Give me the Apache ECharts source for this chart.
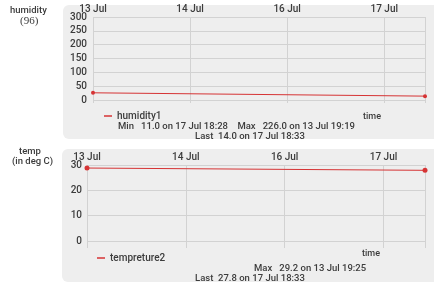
<!DOCTYPE html>
<html>
<head>
<meta charset="utf-8">
<script src="https://cdn.jsdelivr.net/npm/echarts@6/dist/echarts.min.js"></script>
<style>
  html, body { margin: 0; padding: 0; background: #fff; }
  #chart { width: 434px; height: 284px; }
</style>
</head>
<body>
<div id="chart"></div>
<script>
// x positions are in "tick slots": 13 Jul = 0, 14 Jul = 1, 16 Jul = 2, 17 Jul = 3
var dayLabels = ["13 Jul", "14 Jul", "16 Jul", "17 Jul"];
var humidityTicks = [0, 50, 100, 150, 200, 250, 300];
var tempTicks = [0, 10, 20, 30];
var humidity1 = [[0, 26], [3.42, 14]];
var tempreture2 = [[0, 28.8], [3.42, 27.9]];
var humidityStats = ["Min   11.0 on 17 Jul 18:28    Max   226.0 on 13 Jul 19:19", "Last  14.0 on 17 Jul 18:33"];
var tempStats = ["Max   29.2 on 13 Jul 19:25", "Last  27.8 on 17 Jul 18:33"];

var font = "Roboto, 'Noto Sans', sans-serif";
var red = "#d63334";
var gridColor = "#d2d2d2";
var textColor = "#3c3c3c";

var chart = echarts.init(document.getElementById("chart"));

function xAxisTop(gridIndex) {
  return {
    type: "value",
    gridIndex: gridIndex,
    position: "top",
    min: 0,
    max: 3.42,
    interval: 1,
    axisLine: { show: false },
    axisTick: { show: false },
    axisLabel: {
      showMaxLabel: false,
      color: textColor,
      fontSize: 10,
      fontWeight: 500,
      fontFamily: font,
      margin: 3,
      formatter: function (v) { return dayLabels[v] || ""; },
    },
    splitLine: { show: true, lineStyle: { color: gridColor, width: 1 } },
  };
}
// bottom axis only used to draw the small stubs below the 0 line
function xAxisStub(gridIndex, len) {
  return {
    type: "value",
    gridIndex: gridIndex,
    position: "bottom",
    min: 0,
    max: 3.42,
    interval: 1,
    axisLine: { show: false },
    axisLabel: { show: false },
    axisTick: { show: true, length: len, lineStyle: { color: gridColor } },
    splitLine: { show: false },
  };
}

function label(text, left, top, size, family) {
  return {
    type: "text", left: left, top: top,
    style: { text: text, fontSize: size, fontWeight: 500, fontFamily: family || font, fill: textColor },
  };
}

var option = {
  animation: false,
  graphic: [
    // panel backgrounds
    { type: "rect", z: -10, shape: { x: 63, y: 5, width: 380, height: 134, r: 6 }, style: { fill: "#eeeeee" } },
    { type: "rect", z: -10, shape: { x: 62, y: 149, width: 380, height: 133, r: 6 }, style: { fill: "#eeeeee" } },
    // side titles
    label("humidity", 10, 6, 9.5),
    label("(96)", 20, 16, 11, "'Liberation Serif', serif"),
    label("temp", 19, 147, 9.5),
    label("(in deg C)", 12, 157, 9.5),
    // "time" captions
    label("time", 363, 112, 9),
    label("time", 362, 249, 9),
    // stats
    label(humidityStats[0], 118, 122, 9.5),
    label(humidityStats[1], 195, 132, 9.5),
    label(tempStats[0], 254, 264, 9.5),
    label(tempStats[1], 195, 274, 9.5),
  ],
  legend: [
    {
      data: ["humidity1"],
      left: 104,
      top: 111,
      padding: 0,
      icon: "rect",
      itemWidth: 8,
      itemHeight: 1.5,
      itemGap: 6,
      textStyle: { color: textColor, fontSize: 10, fontFamily: font, fontWeight: 500 },
    },
    {
      data: ["tempreture2"],
      left: 97,
      top: 253,
      padding: 0,
      icon: "rect",
      itemWidth: 8,
      itemHeight: 1.5,
      textStyle: { color: textColor, fontSize: 10, fontFamily: font, fontWeight: 500 },
    },
  ],
  grid: [
    { left: 93, right: 9, top: 17, height: 83 },
    { left: 87, right: 9, top: 165, height: 76 },
  ],
  xAxis: [xAxisTop(0), xAxisTop(1), xAxisStub(0, 3), xAxisStub(1, 7)],
  yAxis: [
    {
      type: "value",
      gridIndex: 0,
      min: humidityTicks[0],
      max: humidityTicks[humidityTicks.length - 1],
      interval: 50,
      axisLine: { show: false },
      axisTick: { show: false },
      axisLabel: { color: textColor, fontSize: 10, fontWeight: 500, fontFamily: font, margin: 6 },
      splitLine: { lineStyle: { color: gridColor } },
    },
    {
      type: "value",
      gridIndex: 1,
      min: tempTicks[0],
      max: tempTicks[tempTicks.length - 1],
      interval: 10,
      axisLine: { show: false },
      axisTick: { show: false },
      axisLabel: { color: textColor, fontSize: 10, fontWeight: 500, fontFamily: font, margin: 5 },
      splitLine: { lineStyle: { color: gridColor } },
    },
  ],
  series: [
    {
      name: "humidity1",
      type: "line",
      xAxisIndex: 0,
      yAxisIndex: 0,
      data: humidity1,
      symbol: "circle",
      symbolSize: 4,
      showSymbol: true,
      lineStyle: { color: red, width: 1 },
      itemStyle: { color: red },
    },
    {
      name: "tempreture2",
      type: "line",
      xAxisIndex: 1,
      yAxisIndex: 1,
      data: tempreture2,
      symbol: "circle",
      symbolSize: 5,
      showSymbol: true,
      lineStyle: { color: red, width: 1 },
      itemStyle: { color: red },
    },
  ],
};

chart.setOption(option);
</script>
</body>
</html>
